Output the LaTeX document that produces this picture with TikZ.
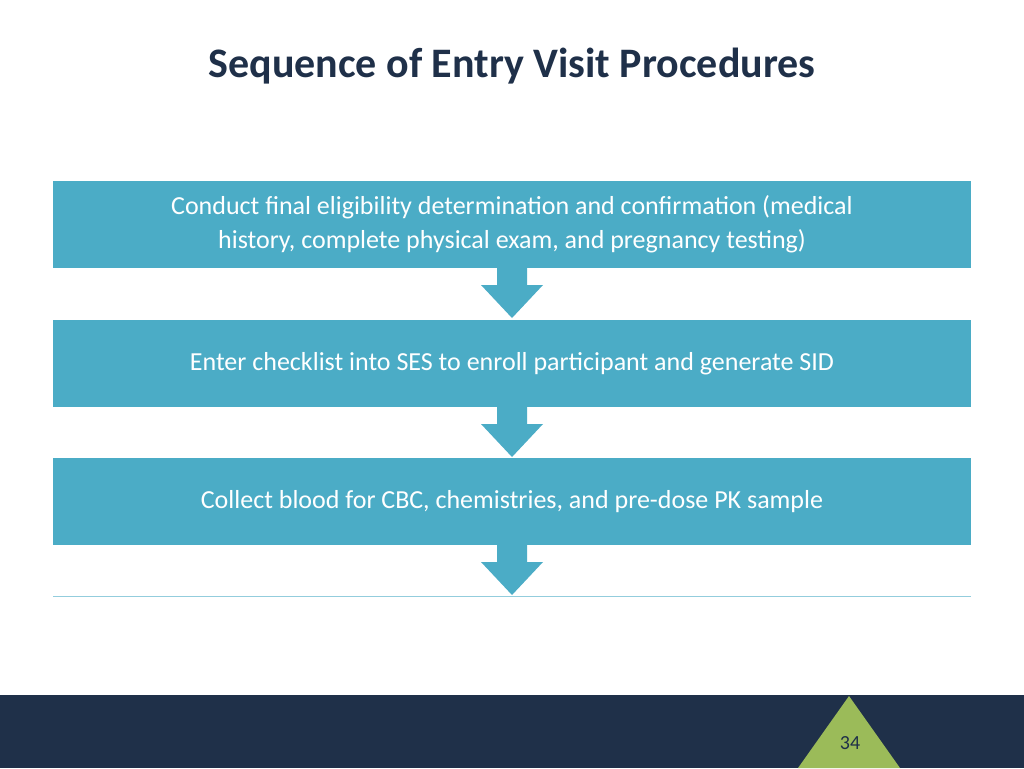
\documentclass[tikz,border=0pt]{standalone}
\usepackage{fontspec}
\setmainfont{Carlito}
\definecolor{navy}{HTML}{1F3049}
\definecolor{teal}{HTML}{4BACC6}
\definecolor{lgreen}{HTML}{9BBB59}
\begin{document}
\begin{tikzpicture}[x=1pt,y=-1pt,
  stepbox/.style={fill=teal,draw=none,minimum width=918pt,minimum height=87pt,text=white,font=\fontsize{26}{34}\selectfont,align=center,inner sep=0pt},
  downarrow/.style={fill=teal,draw=none}]
\useasboundingbox (0,0) rectangle (1024,768);
\fill[white] (0,0) rectangle (1024,768);
\node[text=navy,font=\bfseries\fontsize{42}{50}\selectfont] (title) at (512,66) {Sequence of Entry Visit Procedures};
\node[stepbox] (b1) at (512,224.5) {Conduct final eligibility determination and confirmation (medical\\history, complete physical exam, and pregnancy testing)};
\node[stepbox] (b2) at (512,363.5) {Enter checklist into SES to enroll participant and generate SID};
\node[stepbox] (b3) at (512,501.5) {Collect blood for CBC, chemistries, and pre-dose PK sample};
\foreach \t in {268,407,545}{
  \fill[downarrow] (497,\t) -- (527,\t) -- (527,\t+17) -- (543,\t+17) -- (512,\t+50) -- (481,\t+17) -- (497,\t+17) -- cycle;
}
\draw[teal!60,line width=0.8pt] (53,596) -- (971,596);
\fill[navy] (0,695) rectangle (1024,768);
\fill[lgreen] (849,696) -- (900,768) -- (798,768) -- cycle;
\node[text=navy,font=\fontsize{20}{24}\selectfont] (pg) at (850,743) {34};
\end{tikzpicture}
\end{document}
